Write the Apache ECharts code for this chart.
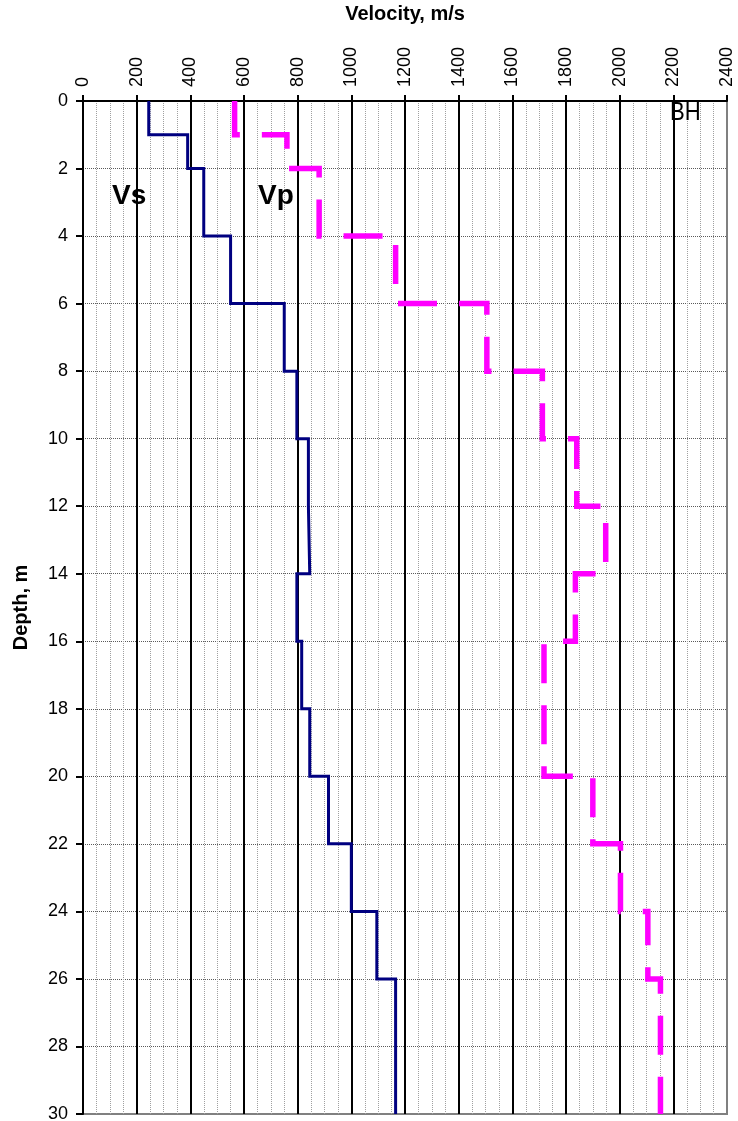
<!DOCTYPE html>
<html>
<head>
<meta charset="utf-8">
<title>Velocity profile BH</title>
<script src="https://cdn.jsdelivr.net/npm/echarts@6/dist/echarts.min.js"></script>
<style>
  html, body { margin: 0; padding: 0; background: #fff; }
  #chart { width: 738px; height: 1121px; }
</style>
</head>
<body>
<div id="chart"></div>
<script>
const vsDepths = [0, 1, 2, 4, 6, 8, 10, 12, 14, 16, 18, 20, 22, 24, 26, 30];
const vsValues = [245, 390, 450, 550, 750, 797, 840, 845, 797, 815, 845, 915, 1000, 1095, 1165];

const vpDepths = [0, 1, 2, 4, 6, 8, 10, 12, 14, 16, 20, 22, 24, 26, 30];
const vpValues = [565, 760, 880, 1165, 1505, 1712, 1840, 1948, 1835, 1718, 1900, 2003, 2105, 2152];

// axis ranges [min, max, step]
const velocityRange = [0, 2400, 200];
const depthRange = [0, 30, 2];

const FONT = '"Liberation Sans", Arial, sans-serif';

// turn layers into a stepped profile: each layer is a vertical segment
function stepProfile(depths, values) {
  const pts = [];
  values.forEach(function (v, i) {
    pts.push([v, depths[i]]);
    pts.push([v, depths[i + 1]]);
  });
  return pts;
}

const chart = echarts.init(document.getElementById('chart'), null, { renderer: 'canvas' });

const option = {
  animation: false,
  backgroundColor: '#fff',
  grid: {
    left: 83, right: 11, top: 101, bottom: 7,
    containLabel: false,
    outerBoundsMode: 'none',
    show: true,
    borderColor: '#808080',
    borderWidth: 2,
    backgroundColor: 'transparent'
  },
  xAxis: {
    type: 'value',
    position: 'top',
    min: velocityRange[0],
    max: velocityRange[1],
    interval: velocityRange[2],
    name: 'Velocity, m/s',
    nameLocation: 'middle',
    nameGap: 77,
    nameTextStyle: { fontFamily: FONT, fontSize: 20, fontWeight: 'bold', color: '#000' },
    axisLine: { show: true, lineStyle: { color: '#000', width: 2 } },
    axisTick: { show: true, inside: false, length: 6, lineStyle: { color: '#000', width: 2 } },
    axisLabel: {
      show: true, rotate: 90, margin: 14, fontFamily: FONT, fontSize: 18, color: '#000',
      showMinLabel: true, showMaxLabel: true, hideOverlap: false,
      formatter: function (v) { return String(v); }
    },
    splitLine: {
      show: true, showMinLine: false, showMaxLine: false,
      lineStyle: { color: '#000', width: 2, type: 'solid' }
    },
    minorTick: { show: false, splitNumber: 4 },
    minorSplitLine: { show: true, lineStyle: { color: '#a0a0a0', width: 1, type: [1, 1] } }
  },
  yAxis: {
    type: 'value',
    inverse: true,
    min: depthRange[0],
    max: depthRange[1],
    interval: depthRange[2],
    name: 'Depth, m',
    nameLocation: 'middle',
    nameRotate: 90,
    nameGap: 52,
    nameTextStyle: { fontFamily: FONT, fontSize: 20, fontWeight: 'bold', color: '#000' },
    axisLine: { show: true, lineStyle: { color: '#000', width: 2 } },
    axisTick: { show: true, inside: false, length: 7, lineStyle: { color: '#000', width: 2 } },
    axisLabel: {
      show: true, margin: 15, fontFamily: FONT, fontSize: 18, color: '#000',
      showMinLabel: true, showMaxLabel: true, hideOverlap: false
    },
    splitLine: {
      show: true, showMinLine: false, showMaxLine: false,
      lineStyle: { color: '#5a5a5a', width: 1, type: [1, 1] }
    }
  },
  series: [
    {
      name: 'Vs',
      type: 'line',
      data: stepProfile(vsDepths, vsValues),
      showSymbol: false,
      symbol: 'none',
      silent: true,
      z: 5,
      lineStyle: { color: '#000080', width: 3, join: 'miter' }
    },
    {
      name: 'Vp',
      type: 'line',
      data: stepProfile(vpDepths, vpValues),
      showSymbol: false,
      symbol: 'none',
      silent: true,
      z: 6,
      lineStyle: { color: '#ff00ff', width: 5.5, type: [39, 22], dashOffset: 0, cap: 'butt', join: 'miter' }
    }
  ],
  graphic: [
    { type: 'text', left: 112, top: 182, z: 10,
      style: { text: 'Vs', font: 'bold 28px ' + FONT, fill: '#000' } },
    { type: 'text', left: 258, top: 182, z: 10,
      style: { text: 'Vp', font: 'bold 28px ' + FONT, fill: '#000' } },
    { type: 'text', x: 670, y: 100, scaleX: 0.85, z: 10,
      style: { text: 'BH', font: '26px ' + FONT, fill: '#000', verticalAlign: 'top' } }
  ]
};

chart.setOption(option);
</script>
</body>
</html>
